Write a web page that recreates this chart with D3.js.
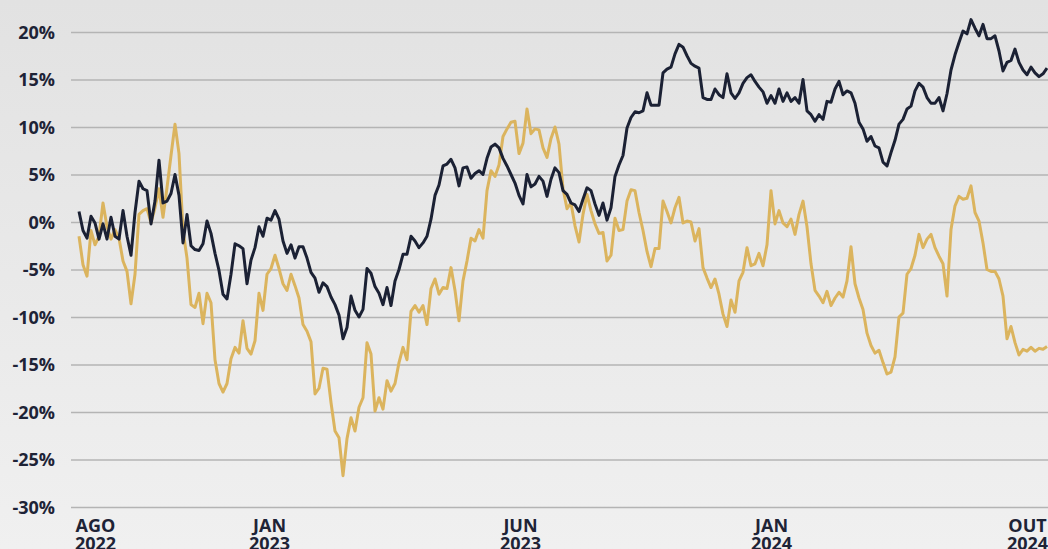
<!DOCTYPE html>
<html>
<head>
<meta charset="utf-8">
<script src="https://cdn.jsdelivr.net/npm/d3@7"></script>
<style>
  html, body { margin: 0; padding: 0; }
  body { width: 1048px; height: 549px; overflow: hidden; }
  svg { display: block; }
  .axis text { font-family: "Open Sans", "Noto Sans", sans-serif; font-weight: 700; font-size: 18px; fill: #1e2336; }
</style>
</head>
<body>
<svg width="1048" height="549"></svg>
<script>
// series values in %, one reading per trading period
const navySeries = [
  1.1, -0.9, -1.7, 0.6, -0.1, -1.8, -0.2, -1.8, 0.5, -1.5,
  -1.8, 1.2, -1.5, -3.5, 1.0, 4.3, 3.5, 3.3, -0.2, 2.2,
  6.5, 2.0, 2.2, 3.0, 5.0, 2.8, -2.2, 0.8, -2.5, -2.9,
  -3.0, -2.3, 0.1, -1.2, -3.3, -5.1, -7.6, -8.1, -5.5, -2.3,
  -2.5, -2.8, -6.5, -4.0, -2.7, -0.5, -1.5, 0.4, 0.2, 1.2,
  0.3, -2.0, -3.3, -2.4, -3.8, -2.6, -2.6, -3.8, -5.3, -5.9,
  -7.4, -6.4, -6.8, -7.9, -8.7, -9.8, -12.3, -11.1, -7.8, -9.3,
  -10.0, -9.2, -4.9, -5.4, -6.8, -7.5, -8.7, -6.9, -8.8, -6.2,
  -5.0, -3.4, -3.4, -1.5, -2.0, -2.7, -2.2, -1.5, 0.3, 2.8,
  3.9, 5.9, 6.1, 6.6, 5.7, 3.8, 5.7, 5.8, 4.6, 5.1,
  5.4, 5.0, 6.7, 7.9, 8.2, 7.8, 6.7, 5.9, 5.0, 4.1,
  2.8, 1.9, 5.0, 3.7, 4.0, 4.8, 4.3, 2.7, 4.5, 5.7,
  5.2, 3.3, 2.9, 2.0, 1.8, 1.1, 2.4, 3.6, 3.3, 1.9,
  0.7, 2.0, 0.2, 1.5, 4.8, 6.0, 7.0, 9.9, 11.0, 11.6,
  11.5, 11.7, 13.6, 12.3, 12.3, 12.3, 15.7, 16.1, 16.3, 17.7,
  18.7, 18.4, 17.5, 16.7, 16.4, 16.2, 13.1, 12.9, 12.9, 14.0,
  13.4, 13.1, 15.6, 13.6, 13.0, 13.6, 14.6, 15.2, 15.5, 14.8,
  14.2, 13.7, 12.5, 13.3, 12.5, 14.0, 12.7, 13.6, 12.7, 13.1,
  12.5, 15.0, 11.7, 11.3, 10.6, 11.3, 10.8, 12.7, 12.6, 14.0,
  14.8, 13.4, 13.8, 13.6, 12.5, 10.5, 9.8, 8.5, 9.0, 8.0,
  7.8, 6.3, 5.9, 7.3, 8.6, 10.3, 10.8, 11.9, 12.2, 13.8,
  14.6, 14.2, 13.1, 12.5, 12.5, 13.1, 11.7, 13.5, 16.0, 17.6,
  18.9, 20.1, 19.8, 21.3, 20.4, 19.6, 20.8, 19.3, 19.3, 19.6,
  18.0, 15.9, 16.8, 17.0, 18.2, 16.8, 16.0, 15.5, 16.3, 15.7,
  15.3, 15.6, 16.2
];

const goldSeries = [
  -1.5, -4.5, -5.7, -0.9, -2.4, -1.5, 2.0, -0.5, -1.8, -0.8,
  -1.7, -4.1, -5.2, -8.6, -5.5, 0.8, 1.2, 1.4, -0.1, 1.5,
  3.5, 0.5, 3.6, 7.0, 10.3, 7.2, -0.9, -3.8, -8.7, -9.0,
  -7.5, -10.7, -7.5, -8.5, -14.5, -17.0, -17.9, -17.0, -14.4, -13.2,
  -13.8, -10.4, -13.3, -13.9, -12.5, -7.5, -9.3, -5.5, -4.9, -3.5,
  -4.9, -6.5, -7.2, -5.5, -6.7, -8.0, -10.8, -11.5, -12.6, -18.1,
  -17.5, -15.4, -15.5, -19.0, -22.0, -22.7, -26.7, -22.8, -20.6, -22.0,
  -19.5, -18.5, -12.7, -13.9, -19.9, -18.5, -19.7, -16.7, -17.8, -17.0,
  -14.8, -13.2, -14.5, -9.4, -8.8, -9.5, -8.8, -10.8, -7.0, -6.0,
  -7.6, -6.9, -7.0, -4.8, -7.2, -10.4, -6.2, -4.1, -1.7, -2.0,
  -0.8, -1.7, 3.3, 5.4, 4.8, 6.0, 9.0, 9.8, 10.5, 10.6,
  7.2, 8.3, 11.9, 9.3, 9.8, 9.7, 7.8, 6.8, 8.8, 10.0,
  8.2, 3.5, 1.4, 2.0, -0.4, -2.1, 0.8, 2.9, 1.2, -0.2,
  -1.2, -1.1, -4.1, -3.5, 0.4, -0.9, -0.8, 2.2, 3.4, 3.3,
  1.0, -0.9, -3.1, -4.7, -2.8, -2.8, 2.2, 1.1, -0.1, 1.5,
  2.6, -0.1, 0.1, 0.0, -2.0, -0.7, -4.8, -5.9, -6.9, -6.0,
  -7.6, -9.7, -11.0, -8.2, -9.5, -6.2, -5.3, -2.7, -4.6, -4.4,
  -3.3, -4.6, -2.4, 3.3, -0.2, 1.2, -0.1, -0.5, 0.3, -1.3,
  0.8, 2.2, -0.5, -4.4, -7.2, -7.8, -8.5, -7.3, -8.8, -8.0,
  -7.4, -7.9, -6.2, -2.6, -6.5, -8.0, -9.2, -11.7, -13.0, -13.8,
  -13.5, -14.8, -16.0, -15.8, -14.2, -10.0, -9.6, -5.5, -4.9, -3.5,
  -1.3, -2.7, -1.8, -1.3, -2.7, -3.6, -4.4, -7.8, -0.8, 1.7,
  2.7, 2.4, 2.5, 3.8, 1.0, 0.1, -2.2, -5.0, -5.2, -5.2,
  -6.0, -7.8, -12.3, -11.0, -12.7, -14.0, -13.4, -13.6, -13.2, -13.6,
  -13.3, -13.4, -13.1
];

const yTicks = [20, 15, 10, 5, 0, -5, -10, -15, -20, -25, -30];
const xTickIndex = [4, 47.5, 110.25, 173, 237];
const xTickMonths = ["AGO", "JAN", "JUN", "JAN", "OUT"];
const xTickYears = ["2022", "2023", "2023", "2024", "2024"];

const svg = d3.select("svg");
const width = +svg.attr("width");
const height = +svg.attr("height");

const margin = { top: 32, right: 1, bottom: 42, left: 71 };

// background gradient
const defs = svg.append("defs");
const grad = defs.append("linearGradient")
  .attr("id", "bg").attr("x1", 0).attr("y1", 0).attr("x2", 0).attr("y2", 1);
grad.append("stop").attr("offset", "0%").attr("stop-color", "#e2e2e2");
grad.append("stop").attr("offset", "100%").attr("stop-color", "#f0f0f0");
svg.append("rect").attr("width", width).attr("height", height).attr("fill", "url(#bg)");

const xScale = d3.scaleLinear()
  .domain([0, navySeries.length - 1])
  .range([79, width - 1]);

const yScale = d3.scaleLinear()
  .domain([-30, 20])
  .range([height - margin.bottom, margin.top]);

// y axis with gridlines
const yAxis = d3.axisLeft(yScale)
  .tickValues(yTicks)
  .tickSize(-(width - margin.left))
  .tickPadding(16)
  .tickFormat(d => d + "%");

const yAxisG = svg.append("g")
  .attr("class", "axis")
  .attr("transform", `translate(${margin.left},0)`)
  .call(yAxis);
yAxisG.select(".domain").remove();
yAxisG.selectAll(".tick line").attr("stroke", "#b4b4b4").attr("stroke-width", 1.5);
yAxisG.selectAll(".tick text").attr("dy", "0.36em");

// x axis, two-line labels
const xAxis = d3.axisBottom(xScale)
  .tickValues(xTickIndex)
  .tickSize(0)
  .tickFormat("");

const xAxisG = svg.append("g")
  .attr("class", "axis")
  .attr("transform", `translate(0,${height - margin.bottom})`)
  .call(xAxis);
xAxisG.select(".domain").remove();
xAxisG.selectAll(".tick").each(function(d, i) {
  const t = d3.select(this).append("text")
    .attr("text-anchor", "middle")
    .attr("fill", "#1e2336");
  t.append("tspan").attr("x", 0).attr("y", 25).text(xTickMonths[i]);
  t.append("tspan").attr("x", 0).attr("y", 43).text(xTickYears[i]);
});

const line = d3.line()
  .x((d, i) => xScale(i))
  .y(d => yScale(d));

svg.append("path")
  .datum(goldSeries)
  .attr("fill", "none")
  .attr("stroke", "#dbb45e")
  .attr("stroke-width", 3)
  .attr("stroke-linejoin", "round")
  .attr("d", line);

svg.append("path")
  .datum(navySeries)
  .attr("fill", "none")
  .attr("stroke", "#1b2134")
  .attr("stroke-width", 3)
  .attr("stroke-linejoin", "round")
  .attr("d", line);
</script>
</body>
</html>
